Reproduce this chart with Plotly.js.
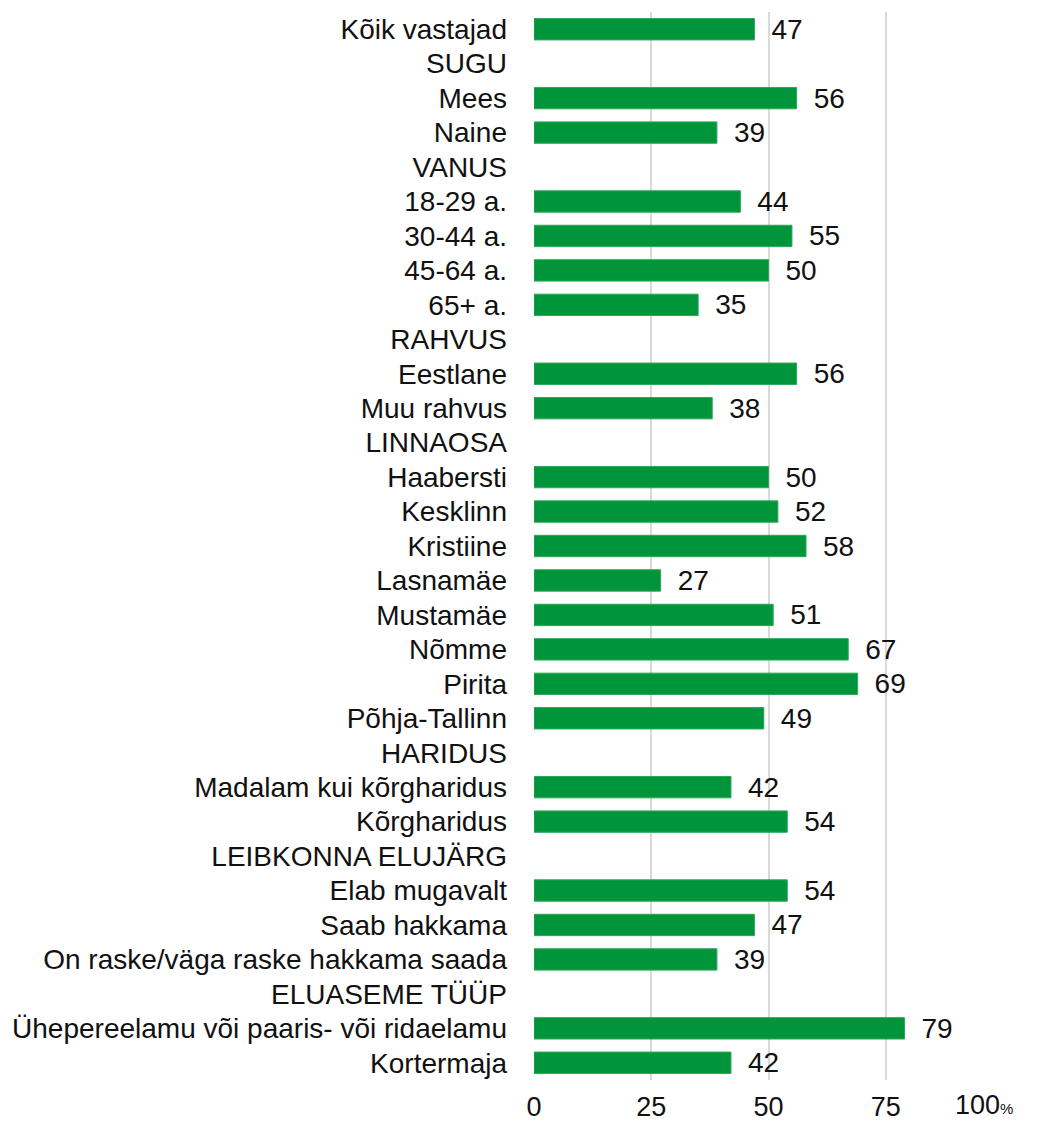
<!DOCTYPE html>
<html>
<head>
<meta charset="utf-8">
<script src="https://cdn.plot.ly/plotly-3.0.1.min.js"></script>
<style>html,body{margin:0;padding:0;background:#fff;}#chart{width:1049px;height:1124px;}</style>
</head>
<body>
<div id="chart"></div>
<script>
const categories = [
  "Kõik vastajad","SUGU","Mees","Naine","VANUS","18-29 a.","30-44 a.","45-64 a.","65+ a.",
  "RAHVUS","Eestlane","Muu rahvus","LINNAOSA","Haabersti","Kesklinn","Kristiine","Lasnamäe",
  "Mustamäe","Nõmme","Pirita","Põhja-Tallinn","HARIDUS","Madalam kui kõrgharidus","Kõrgharidus",
  "LEIBKONNA ELUJÄRG","Elab mugavalt","Saab hakkama","On raske/väga raske hakkama saada",
  "ELUASEME TÜÜP","Ühepereelamu või paaris- või ridaelamu","Kortermaja"
];
const values = [
  47,null,56,39,null,44,55,50,35,
  null,56,38,null,50,52,58,27,
  51,67,69,49,null,42,54,
  null,54,47,39,
  null,79,42
];
const tickVals = [0,25,50,75,100];
const tickText = ["0","25","50","75",""];
const lastTickLabel = "100";
const unitLabel = "%";

const labels = values.map(v => v === null ? "" : "\u2002" + v);
const FONT = "Liberation Sans, Arial, sans-serif";

const trace = {
  type: "bar",
  orientation: "h",
  y: categories,
  x: values,
  text: labels,
  textposition: "outside",
  constraintext: "none",
  cliponaxis: false,
  textfont: {family: FONT, size: 28, color: "#111"},
  marker: {color: "#00953a", line: {color: "#2aa858", width: 1}},
  hoverinfo: "x+y"
};

const layout = {
  width: 1049,
  height: 1124,
  margin: {l: 534, r: 46, t: 12, b: 44},
  paper_bgcolor: "#fff",
  plot_bgcolor: "#fff",
  bargap: 0.38,
  showlegend: false,
  font: {family: FONT, size: 27, color: "#111"},
  xaxis: {
    range: [0, 100],
    tickvals: tickVals,
    ticktext: tickText,
    showgrid: true,
    gridcolor: "#d9d9d9",
    gridwidth: 2,
    zeroline: false,
    showline: false,
    ticks: "",
    ticklabelstandoff: 8,
    tickfont: {size: 27, color: "#111"},
    fixedrange: true
  },
  yaxis: {
    type: "category",
    autorange: "reversed",
    showgrid: false,
    zeroline: false,
    showline: false,
    ticks: "",
    ticklabelstandoff: 26,
    tickfont: {size: 28, color: "#111"},
    fixedrange: true
  },
  annotations: [{
    x: 100, xref: "x", y: 0, yref: "paper",
    xanchor: "right", yanchor: "top", xshift: 12, yshift: -8,
    showarrow: false,
    text: lastTickLabel + "<span style='font-size:15px'>" + unitLabel + "</span>",
    font: {family: FONT, size: 27, color: "#111"}
  }]
};

Plotly.newPlot("chart", [trace], layout, {displayModeBar: false, staticPlot: true});
</script>
</body>
</html>
